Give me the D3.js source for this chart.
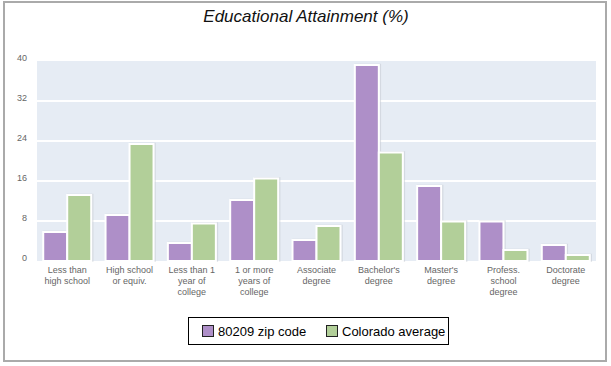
<!DOCTYPE html>
<html><head><meta charset="utf-8">
<script src="https://cdn.jsdelivr.net/npm/d3@7"></script>
<style>body{margin:0;background:#fff;}svg{display:block;font-family:Arial,"Liberation Sans",sans-serif;}</style>
</head><body>
<svg id="c" width="611" height="366"></svg>
<script>
const categories = [
  ["Less than","high school"],
  ["High school","or equiv."],
  ["Less than 1","year of","college"],
  ["1 or more","years of","college"],
  ["Associate","degree"],
  ["Bachelor's","degree"],
  ["Master's","degree"],
  ["Profess.","school","degree"],
  ["Doctorate","degree"]
];
const seriesNames = ["80209 zip code","Colorado average"];
const zipValues = [5.8, 9.2, 3.6, 12.2, 4.2, 39.2, 15.0, 7.9, 3.2];
const coloradoValues = [13.2, 23.4, 7.5, 16.5, 7.0, 21.7, 7.9, 2.2, 1.2];
const yTicks = [0, 8, 16, 24, 32, 40];
const colors = ["#ae8fc8", "#b2cf99"];

const svg = d3.select("#c");
svg.append("rect").attr("x",4).attr("y",2).attr("width",602).attr("height",359)
  .attr("fill","#fff").attr("stroke","#aaaaaa").attr("stroke-width",2);

svg.append("text").attr("x",306).attr("y",22).attr("text-anchor","middle")
  .attr("font-size",17).attr("font-style","italic").attr("fill","#111")
  .text("Educational Attainment (%)");

const y = d3.scaleLinear().domain([0,40]).range([261,61]);
const x0 = d3.scaleBand().domain(d3.range(categories.length)).range([37,596]).paddingInner(0.23).paddingOuter(0.1);
const x1 = d3.scaleBand().domain([0,1]).range([0,x0.bandwidth()]);

svg.append("rect").attr("x",37).attr("y",y(40)).attr("width",559).attr("height",y(0)-y(40)).attr("fill","#e6ecf4");
svg.append("g").selectAll("line").data(yTicks.filter(t=>t>0 && t<40)).join("line")
  .attr("x1",37).attr("x2",596).attr("y1",d=>y(d)).attr("y2",d=>y(d))
  .attr("stroke","#fff").attr("stroke-width",2);

const yAxis = svg.append("g").attr("transform","translate(27,-3)")
  .call(d3.axisLeft(y).tickValues(yTicks).tickSize(0).tickPadding(0));
yAxis.select(".domain").remove();
yAxis.selectAll("text").attr("font-size",9).attr("fill","#666").attr("font-family","Arial,'Liberation Sans',sans-serif");

const data = categories.map((c,i)=>[zipValues[i], coloradoValues[i]]);
const groups = svg.append("g").selectAll("g").data(data).join("g")
  .attr("transform",(d,i)=>`translate(${x0(i)},0)`);
// faint shadow
groups.selectAll("rect.sh").data(d=>d).join("rect").attr("class","sh")
  .attr("x",(d,j)=>x1(j)+0.5).attr("y",d=>y(d)-0.5).attr("width",x1.bandwidth()+1).attr("height",d=>y(0)-y(d)+0.5)
  .attr("fill","none").attr("stroke","#c8cdd4").attr("stroke-width",1.5).attr("opacity",0.6);
groups.selectAll("rect.b").data(d=>d).join("rect").attr("class","b")
  .attr("x",(d,j)=>x1(j)).attr("y",d=>y(d)).attr("width",x1.bandwidth()).attr("height",d=>y(0)-y(d))
  .attr("fill",(d,j)=>colors[j]).attr("stroke","#fff").attr("stroke-width",2);

const labels = svg.append("g").selectAll("text").data(categories).join("text")
  .attr("x",(d,i)=>x0(i)+x0.bandwidth()/2).attr("y",273)
  .attr("text-anchor","middle").attr("font-size",9).attr("fill","#666");
labels.selectAll("tspan").data(d=>d).join("tspan")
  .attr("x",function(){return this.parentNode.getAttribute("x");})
  .attr("dy",(d,i)=>i===0?0:11).text(d=>d);

const lg = svg.append("g");
lg.append("rect").attr("x",188.5).attr("y",317.5).attr("width",260).attr("height",27)
  .attr("fill","#fff").attr("stroke","#000").attr("stroke-width",1);
const lx = [202, 326];
seriesNames.forEach((n,i)=>{
  lg.append("rect").attr("x",lx[i]+0.5).attr("y",325.5).attr("width",11).attr("height",11)
    .attr("fill",colors[i]).attr("stroke","#222").attr("stroke-width",1);
  lg.append("text").attr("x",lx[i]+16).attr("y",336).attr("font-size",13).attr("fill","#000").text(n);
});
</script>
</body></html>
